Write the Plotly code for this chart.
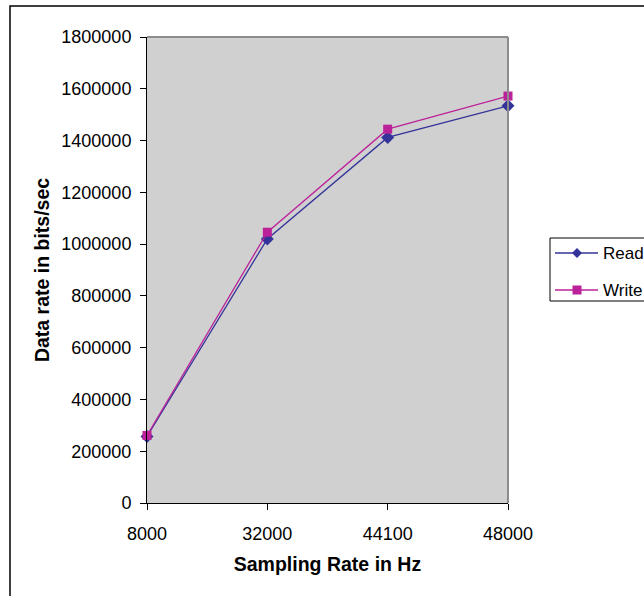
import plotly.graph_objects as go

# Sampling rates (category axis) and measured throughput
sampling_rates = ["8000", "32000", "44100", "48000"]
read_rates = [257000, 1020000, 1412000, 1534000]
write_rates = [261000, 1046000, 1444000, 1572000]
y_ticks = [0, 200000, 400000, 600000, 800000, 1000000, 1200000, 1400000, 1600000, 1800000]
series_names = ["Read", "Write"]
series_colors = ["#333399", "#BB2299"]

FONT = "Liberation Sans, Arial, sans-serif"
W, H = 644, 596
L, R, T, B = 147, 508, 37, 503  # plot area edges in pixels
pw, ph = R - L, B - T


def px(x):
    return (x - L) / pw


def py(y):
    return (B - y) / ph


fig = go.Figure()
fig.add_trace(go.Scatter(
    x=sampling_rates, y=read_rates, name=series_names[0], mode="lines+markers",
    line=dict(color=series_colors[0], width=1.3),
    marker=dict(symbol="diamond", size=10, color=series_colors[0]),
    cliponaxis=False, showlegend=False,
))
fig.add_trace(go.Scatter(
    x=sampling_rates, y=write_rates, name=series_names[1], mode="lines+markers",
    line=dict(color=series_colors[1], width=1.3),
    marker=dict(symbol="square", size=9, color=series_colors[1]),
    cliponaxis=False, showlegend=False,
))

# Legend box drawn by hand so it can run past the right edge of the page
shapes = [
    # outer chart frame
    dict(type="rect", xref="paper", yref="paper",
         x0=px(10), x1=px(W + 20), y0=py(H + 20), y1=py(6),
         line=dict(color="black", width=1.5), layer="below"),
    # plot area border on top and right
    dict(type="line", xref="paper", yref="paper", x0=0, x1=1, y0=1, y1=1,
         line=dict(color="#8c8c8c", width=2)),
    dict(type="line", xref="paper", yref="paper", x0=1, x1=1, y0=0, y1=1,
         line=dict(color="#8c8c8c", width=2)),
    # legend frame
    dict(type="rect", xref="paper", yref="paper",
         x0=px(550), x1=px(W + 30), y0=py(301), y1=py(238),
         line=dict(color="black", width=1), fillcolor="white"),
]
annotations = []
legend_rows = [253, 290]
for i, (name, color, ry) in enumerate(zip(series_names, series_colors, legend_rows)):
    shapes.append(dict(type="line", xref="paper", yref="paper",
                       x0=px(555), x1=px(598), y0=py(ry), y1=py(ry),
                       line=dict(color=color, width=1.3)))
    cx = 577
    if i == 0:
        path = (f"M {px(cx - 5)},{py(ry)} L {px(cx)},{py(ry - 5)} "
                f"L {px(cx + 5)},{py(ry)} L {px(cx)},{py(ry + 5)} Z")
    else:
        path = (f"M {px(cx - 4.5)},{py(ry - 4.5)} L {px(cx + 4.5)},{py(ry - 4.5)} "
                f"L {px(cx + 4.5)},{py(ry + 4.5)} L {px(cx - 4.5)},{py(ry + 4.5)} Z")
    shapes.append(dict(type="path", xref="paper", yref="paper", path=path,
                       fillcolor=color, line=dict(color=color, width=0)))
    annotations.append(dict(text=name, xref="paper", yref="paper",
                            x=px(601), y=py(ry), xanchor="left", yanchor="middle",
                            showarrow=False, font=dict(size=17, color="black")))

fig.update_layout(
    width=W, height=H,
    margin=dict(l=L, r=W - R, t=T, b=H - B, pad=0),
    paper_bgcolor="white", plot_bgcolor="#d0d0d0",
    font=dict(family=FONT, size=18, color="black"),
    showlegend=False,
    xaxis=dict(
        type="category", range=[0, 3], showgrid=False,
        showline=True, linecolor="black", linewidth=1,
        ticks="outside", ticklen=6, tickcolor="black",
        tickfont=dict(size=18), ticklabelstandoff=8,
        title=dict(text="<b>Sampling Rate in Hz</b>", font=dict(size=19.5), standoff=14),
    ),
    yaxis=dict(
        range=[0, 1800000], tickvals=y_ticks, tickformat="d", showgrid=False,
        zeroline=False,
        showline=True, linecolor="black", linewidth=1,
        ticks="outside", ticklen=6, tickcolor="black",
        tickfont=dict(size=18), ticklabelstandoff=5,
        title=dict(text="<b>Data rate in bits/sec</b>", font=dict(size=19.5), standoff=6),
    ),
    shapes=shapes,
    annotations=annotations,
)

fig.write_html("out.html")
